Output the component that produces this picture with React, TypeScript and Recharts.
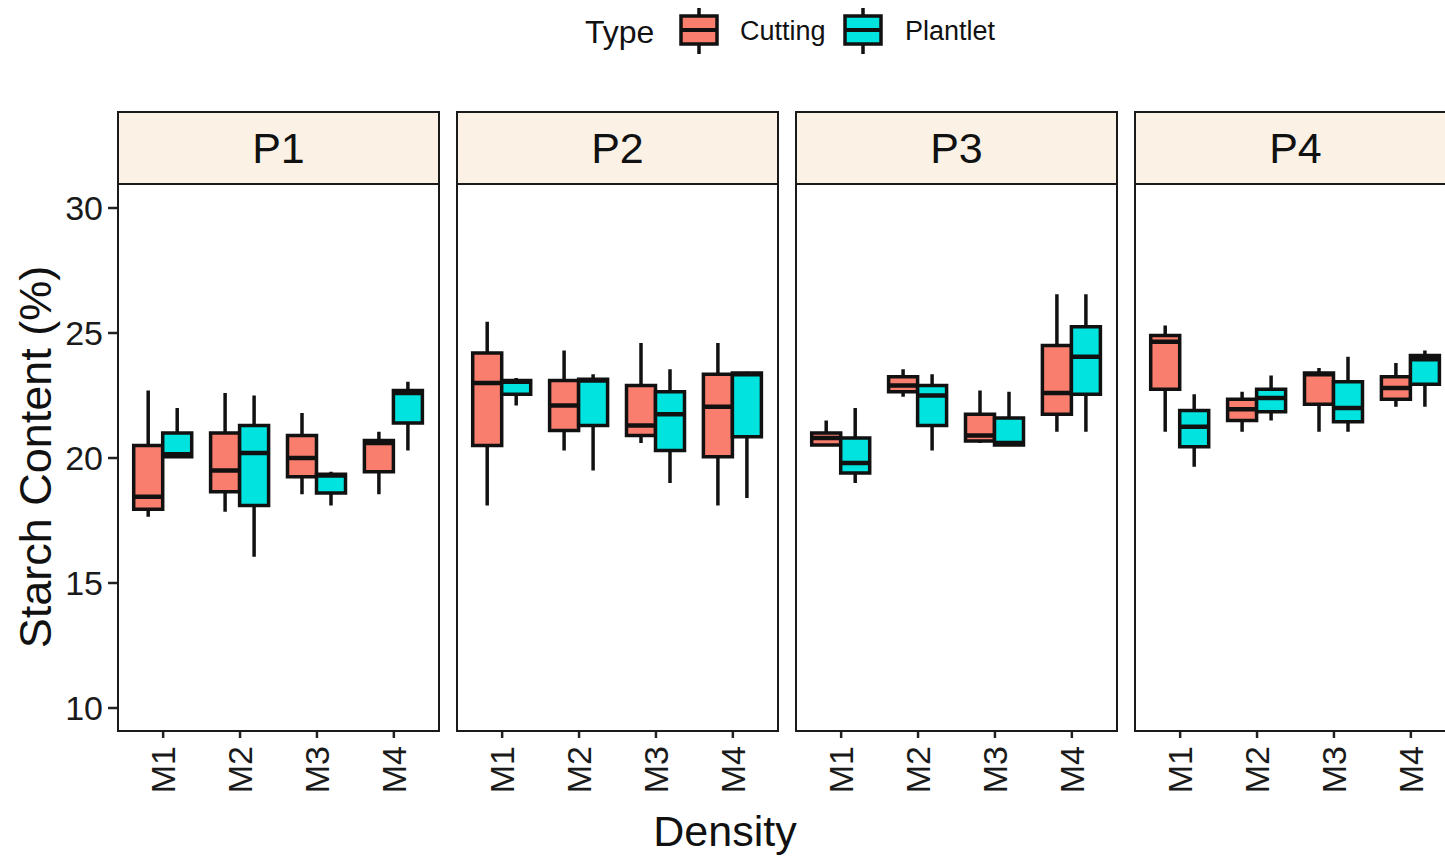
import React from 'react'
import { ComposedChart, Bar, XAxis, YAxis } from 'recharts'

const FONT = "'Liberation Sans', Arial, sans-serif"

const densities = ['M1', 'M2', 'M3', 'M4']
const panels = ['P1', 'P2', 'P3', 'P4']
const yTicks = [10, 15, 20, 25, 30]

// five-number summaries per density: [min, q1, median, q3, max]
const cuttingP1 = [[17.65, 17.95, 18.45, 20.5, 22.7], [17.85, 18.65, 19.5, 21.0, 22.6], [18.55, 19.25, 20.0, 20.9, 21.8], [18.55, 19.45, 20.6, 20.7, 21.05]]
const plantletP1 = [[20.0, 20.05, 20.15, 21.0, 22.0], [16.05, 18.1, 20.2, 21.3, 22.5], [18.1, 18.6, 19.3, 19.35, 19.45], [20.3, 21.4, 22.6, 22.7, 23.05]]
const cuttingP2 = [[18.1, 20.5, 23.0, 24.2, 25.45], [20.3, 21.1, 22.1, 23.1, 24.3], [20.6, 20.9, 21.3, 22.9, 24.6], [18.1, 20.05, 22.05, 23.35, 24.6]]
const plantletP2 = [[22.1, 22.55, 23.05, 23.1, 23.2], [19.5, 21.3, 23.1, 23.15, 23.35], [19.0, 20.3, 21.75, 22.65, 23.55], [18.4, 20.85, 23.35, 23.4, 23.45]]
const cuttingP3 = [[20.5, 20.52, 20.8, 21.0, 21.5], [22.45, 22.65, 22.9, 23.25, 23.55], [20.6, 20.68, 20.9, 21.75, 22.7], [21.05, 21.75, 22.6, 24.5, 26.55]]
const plantletP3 = [[19.0, 19.4, 19.8, 20.8, 22.0], [20.3, 21.3, 22.5, 22.9, 23.35], [20.5, 20.52, 20.6, 21.6, 22.65], [21.05, 22.55, 24.05, 25.25, 26.55]]
const cuttingP4 = [[21.05, 22.75, 24.65, 24.9, 25.3], [21.05, 21.5, 21.95, 22.35, 22.65], [21.05, 22.15, 23.35, 23.4, 23.6], [22.05, 22.35, 22.8, 23.25, 23.8]]
const plantletP4 = [[19.65, 20.45, 21.25, 21.9, 22.55], [21.5, 21.85, 22.4, 22.75, 23.3], [21.05, 21.45, 22.0, 23.05, 24.05], [22.05, 22.95, 23.95, 24.1, 24.3]]

const cutting = [cuttingP1, cuttingP2, cuttingP3, cuttingP4]
const plantlet = [plantletP1, plantletP2, plantletP3, plantletP4]

const CUT_COLOR = '#F97E6D'
const PLA_COLOR = '#00E3DE'
const STRIP_BG = '#FBF1E4'

const PANEL_LEFT = [117, 456, 795, 1134]
const PANEL_W = 323
const PLOT_TOP = 183
const PLOT_H = 549
const Y_DOMAIN = [9.04, 31]

function BoxShape(props: any) {
  const { x, y, width, height, payload, statKey, fill } = props
  const s: number[] = payload[statKey]
  const top = Math.min(y, y + height)
  const bot = Math.max(y, y + height)
  const span = s[4] - s[0]
  const yOf = (v: number) => top + ((s[4] - v) / span) * (bot - top)
  const cx = x + width / 2
  return (
    <g>
      <line x1={cx} x2={cx} y1={yOf(s[4])} y2={yOf(s[3])} stroke="#111" strokeWidth={3.5} />
      <line x1={cx} x2={cx} y1={yOf(s[1])} y2={yOf(s[0])} stroke="#111" strokeWidth={3.5} />
      <rect x={x} y={yOf(s[3])} width={width} height={Math.max(yOf(s[1]) - yOf(s[3]), 1)} fill={fill} stroke="#111" strokeWidth={3.5} />
      <line x1={x} x2={x + width} y1={yOf(s[2])} y2={yOf(s[2])} stroke="#111" strokeWidth={4.5} />
    </g>
  )
}

function XTick(props: any) {
  const { x, y, payload } = props
  return (
    <text transform={`translate(${x},${y + 6}) rotate(-90)`} textAnchor="end" dominantBaseline="central" fontSize={34} fill="#1a1a1a" fontFamily={FONT}>
      {payload.value}
    </text>
  )
}

function YTick(props: any) {
  const { x, y, payload } = props
  return (
    <text x={x} y={y} textAnchor="end" dominantBaseline="central" fontSize={34} fill="#1a1a1a" fontFamily={FONT}>
      {payload.value}
    </text>
  )
}

function Panel({ idx }: { idx: number }) {
  const data = densities.map((d, i) => ({ density: d, cut: cutting[idx][i], pla: plantlet[idx][i] }))
  const first = idx === 0
  const yw = first ? 117 : 0
  return (
    <div style={{ position: 'absolute', left: PANEL_LEFT[idx] - yw, top: PLOT_TOP }}>
      <ComposedChart width={PANEL_W + yw} height={PLOT_H + 90} data={data} margin={{ top: 0, right: 0, bottom: 0, left: 0 }} barGap={0} barSize={29}>
        <XAxis dataKey="density" height={90} axisLine={false} tickLine={{ stroke: '#222', strokeWidth: 2.5 }} tickSize={6} tick={<XTick />} padding={{ left: 7.7, right: 7.7 }} interval={0} />
        <YAxis hide={!first} width={yw} type="number" domain={Y_DOMAIN} ticks={yTicks} allowDataOverflow axisLine={false} tickLine={{ stroke: '#222', strokeWidth: 2.5 }} tickSize={9} tickMargin={5} tick={<YTick />} />
        <Bar dataKey={(r: any) => [r.cut[0], r.cut[4]]} fill={CUT_COLOR} isAnimationActive={false} shape={(p: any) => <BoxShape {...p} statKey="cut" fill={CUT_COLOR} />} />
        <Bar dataKey={(r: any) => [r.pla[0], r.pla[4]]} fill={PLA_COLOR} isAnimationActive={false} shape={(p: any) => <BoxShape {...p} statKey="pla" fill={PLA_COLOR} />} />
      </ComposedChart>
      <div style={{ position: 'absolute', left: yw, top: 0, width: PANEL_W, height: PLOT_H, border: '2.5px solid #1a1a1a', boxSizing: 'border-box', pointerEvents: 'none' }} />
    </div>
  )
}

function LegendKey({ color }: { color: string }) {
  return (
    <svg width={42} height={50} style={{ display: 'block' }}>
      <line x1={21} x2={21} y1={2} y2={48} stroke="#111" strokeWidth={3.5} />
      <rect x={3} y={10} width={36} height={28} fill={color} stroke="#111" strokeWidth={3.5} />
      <line x1={3} x2={39} y1={24} y2={24} stroke="#111" strokeWidth={4} />
    </svg>
  )
}

export default function App() {
  return (
    <div style={{ position: 'fixed', left: 0, top: 0, width: 1445, height: 859, overflow: 'hidden', background: '#fff', fontFamily: FONT }}>
      {/* legend */}
      <div style={{ position: 'absolute', left: 585, top: 14, fontSize: 32, color: '#111' }}>Type</div>
      <div style={{ position: 'absolute', left: 678, top: 6 }}><LegendKey color={CUT_COLOR} /></div>
      <div style={{ position: 'absolute', left: 740, top: 16, fontSize: 27, color: '#111' }}>Cutting</div>
      <div style={{ position: 'absolute', left: 842, top: 6 }}><LegendKey color={PLA_COLOR} /></div>
      <div style={{ position: 'absolute', left: 905, top: 16, fontSize: 27, color: '#111' }}>Plantlet</div>

      {/* strips */}
      {panels.map((p, i) => (
        <div key={p} style={{ position: 'absolute', left: PANEL_LEFT[i], top: 111, width: PANEL_W, height: 74, background: STRIP_BG, border: '2.5px solid #1a1a1a', boxSizing: 'border-box', display: 'flex', alignItems: 'center', justifyContent: 'center', fontSize: 43, color: '#111' }}>
          {p}
        </div>
      ))}

      {panels.map((p, i) => <Panel key={p} idx={i} />)}

      {/* axis titles */}
      <div style={{ position: 'absolute', left: 36, top: 457, transform: 'translate(-50%, -50%) rotate(-90deg)', whiteSpace: 'nowrap', fontSize: 45, color: '#111' }}>
        Starch Content (%)
      </div>
      <div style={{ position: 'absolute', left: 725, top: 831, transform: 'translate(-50%, -50%)', whiteSpace: 'nowrap', fontSize: 43, color: '#111' }}>
        Density
      </div>
    </div>
  )
}
